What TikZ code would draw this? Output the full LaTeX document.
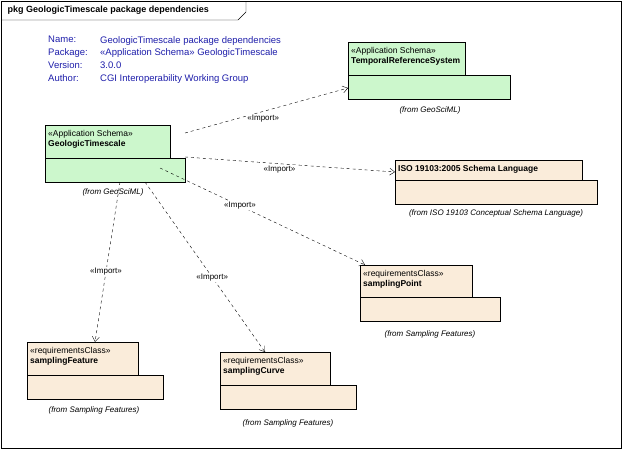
\documentclass[tikz,border=0pt]{standalone}
\usepackage{fontspec}
\setmainfont{Liberation Sans}
\usetikzlibrary{arrows.meta}
\definecolor{schemagreen}{RGB}{204,247,204}
\definecolor{classtan}{RGB}{250,236,218}
\definecolor{infoblue}{RGB}{30,30,170}
\tikzset{
  tab/.style={draw,anchor=north west,inner sep=0pt},
  tabtext/.style={anchor=north west,inner sep=2pt,align=left,font=\fontsize{8.5}{10.5}\selectfont},
  body/.style={draw,anchor=north west,inner sep=0pt},
  from/.style={font=\itshape\fontsize{8}{9}\selectfont},
  import/.style={dashed,-{Straight Barb[length=5pt,width=7pt]}},
  lbl/.style={font=\fontsize{8}{9}\selectfont,fill=white,inner sep=1pt},
}
% package symbol: name, x, y, tab width, tab height, body width, colour, text
\newcommand{\umlpkg}[8]{%
  \node[body,fill=#7,minimum width=#6pt,minimum height=24pt] (#1) at (#2,#3+#5) {};
  \node[tab,fill=#7,minimum width=#4pt,minimum height=#5pt] (#1tab) at (#2,#3) {};
  \node[tabtext] (#1txt) at (#2+1,#3+3) {#8};}
\begin{document}
\begin{tikzpicture}[x=1pt,y=-1pt]
\useasboundingbox (0,0) rectangle (623,450);
\draw (1,1) rectangle (621,448);
\draw (1,20) -- (238,20) -- (246,12) -- (246,1);
\node[anchor=west,font=\bfseries\fontsize{9}{10}\selectfont] (title) at (4,10) {pkg GeologicTimescale package dependencies};

% info block
\node[anchor=north west,align=left,text=infoblue,font=\fontsize{9.5}{12.8}\selectfont,inner sep=0pt] (keys) at (48,36) {Name:\\Package:\\Version:\\Author:};
\node[anchor=north west,align=left,text=infoblue,font=\fontsize{9.5}{12.8}\selectfont,inner sep=0pt] (vals) at (100,36) {GeologicTimescale package dependencies\\«Application Schema» GeologicTimescale\\3.0.0\\CGI Interoperability Working Group};

\umlpkg{gt}{45}{125}{125}{33}{140}{schemagreen}{«Application Schema»\\\textbf{GeologicTimescale}}
\umlpkg{trs}{348}{42}{117}{33}{162}{schemagreen}{«Application Schema»\\\textbf{TemporalReferenceSystem}}
\umlpkg{iso}{395}{160}{187}{20}{202}{classtan}{\textbf{ISO 19103:2005 Schema Language}}
\umlpkg{spt}{360}{265}{112}{32}{140}{classtan}{«requirementsClass»\\\textbf{samplingPoint}}
\umlpkg{sft}{27}{342}{111}{33}{136}{classtan}{«requirementsClass»\\\textbf{samplingFeature}}
\umlpkg{scv}{220}{352}{110}{33}{136}{classtan}{«requirementsClass»\\\textbf{samplingCurve}}

\node[from] (gtfrom) at (113,192) {(from GeoSciML)};
\node[from] (trsfrom) at (430,110) {(from GeoSciML)};
\node[from] (isofrom) at (496,213) {(from ISO 19103 Conceptual Schema Language)};
\node[from] (sptfrom) at (430,334) {(from Sampling Features)};
\node[from] (sftfrom) at (94,410) {(from Sampling Features)};
\node[from] (scvfrom) at (288,423) {(from Sampling Features)};

\coordinate (a1) at (185,133);
\coordinate (a2) at (185,157);
\draw[import] (a1) -- node[lbl,pos=.48,below=2pt] (l1) {«Import»} (348,88);
\draw[import] (a2) -- node[lbl,pos=.45,below=1pt] (l2) {«Import»} (395,172);
\draw[import] (160,168) -- node[lbl,pos=.39] (l3) {«Import»} (365,265);
\draw[import] (120,182) -- node[lbl,pos=.56] (l4) {«Import»} (95,342);
\draw[import] (145,182) -- node[lbl,pos=.56] (l5) {«Import»} (265,352);
\end{tikzpicture}
\end{document}
